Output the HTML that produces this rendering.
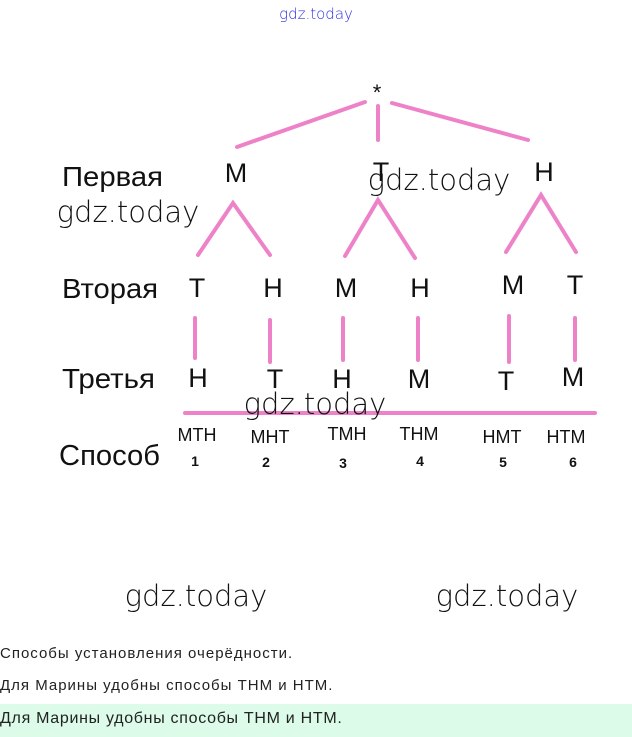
<!DOCTYPE html>
<html><head><meta charset="utf-8"><style>
html,body{margin:0;padding:0;background:#fff;width:632px;height:737px;overflow:hidden;}
svg{position:absolute;left:0;top:0;}
.t{position:absolute;left:0;font:15px "Liberation Sans","DejaVu Sans",sans-serif;letter-spacing:1px;color:#222;}
</style></head><body>
<svg width="632" height="737" font-family="Liberation Sans, DejaVu Sans, sans-serif">
<g stroke="#ee82c8" stroke-width="4" stroke-linecap="round" fill="none">
<line x1="237" y1="147" x2="365" y2="102"/>
<line x1="378" y1="106" x2="378" y2="140"/>
<line x1="392" y1="103" x2="528" y2="140"/>
<polyline points="198,255 233,203 270,255"/>
<polyline points="345,256 378,200 415,258"/>
<polyline points="506,252 541,195 576,252"/>
<line x1="195" y1="318" x2="195" y2="358"/>
<line x1="270" y1="320" x2="270" y2="362"/>
<line x1="343" y1="318" x2="343" y2="360"/>
<line x1="418" y1="318" x2="418" y2="360"/>
<line x1="509" y1="316" x2="509" y2="362"/>
<line x1="575" y1="318" x2="575" y2="360"/>
<line x1="185" y1="413" x2="595" y2="413"/>
</g>
<g fill="#111" font-size="27" text-anchor="middle">
<text x="377" y="100" font-size="22">*</text>
<text x="236" y="182">M</text><text x="381" y="181">T</text><text x="544" y="181">H</text>
<text x="197" y="297">T</text><text x="273" y="297">H</text><text x="346" y="297">M</text><text x="420" y="297">H</text><text x="513" y="294">M</text><text x="575" y="294">T</text>
<text x="198" y="387">H</text><text x="275" y="388">T</text><text x="342" y="388">H</text><text x="419" y="388">M</text><text x="506" y="390">T</text><text x="573" y="386">M</text>
</g>
<g fill="#111" font-size="28">
<text x="62" y="186" textLength="101" lengthAdjust="spacingAndGlyphs">Первая</text>
<text x="62" y="298" textLength="96" lengthAdjust="spacingAndGlyphs">Вторая</text>
<text x="62" y="388" textLength="93" lengthAdjust="spacingAndGlyphs">Третья</text>
<text x="59" y="465" font-size="29" textLength="101" lengthAdjust="spacingAndGlyphs">Способ</text>
</g>
<g fill="#111" font-size="18" text-anchor="middle">
<text x="197" y="441">MTH</text><text x="270" y="443">MHT</text><text x="347" y="440">TMH</text><text x="419" y="440">THM</text><text x="502" y="443">HMT</text><text x="566" y="443">HTM</text>
</g>
<g fill="#111" font-size="14" font-weight="bold" text-anchor="middle">
<text x="195" y="466">1</text><text x="266" y="467">2</text><text x="343" y="468">3</text><text x="420" y="466">4</text><text x="503" y="467">5</text><text x="573" y="467">6</text>
</g>
<g fill="#111" font-family="DejaVu Sans, sans-serif" text-anchor="middle" style="font-weight:200">
<text x="128" y="222" font-size="29">gdz.today</text>
<text x="439" y="190" font-size="29">gdz.today</text>
<text x="315" y="414" font-size="29">gdz.today</text>
<text x="196" y="606" font-size="29">gdz.today</text>
<text x="507" y="606" font-size="29">gdz.today</text>
<text x="316" y="19" font-size="15" fill="#3333dd">gdz.today</text>
</g>
</svg>
<div style="position:absolute;left:0;top:704px;width:632px;height:33px;background:#dcfbe9;"></div>
<div class="t" style="top:645px">Способы установления очерёдности.</div>
<div class="t" style="top:677px">Для Марины удобны способы ТНМ и НТМ.</div>
<div class="t" style="top:710px;font-size:16px;letter-spacing:0.7px">Для Марины удобны способы ТНМ и НТМ.</div>
</body></html>
